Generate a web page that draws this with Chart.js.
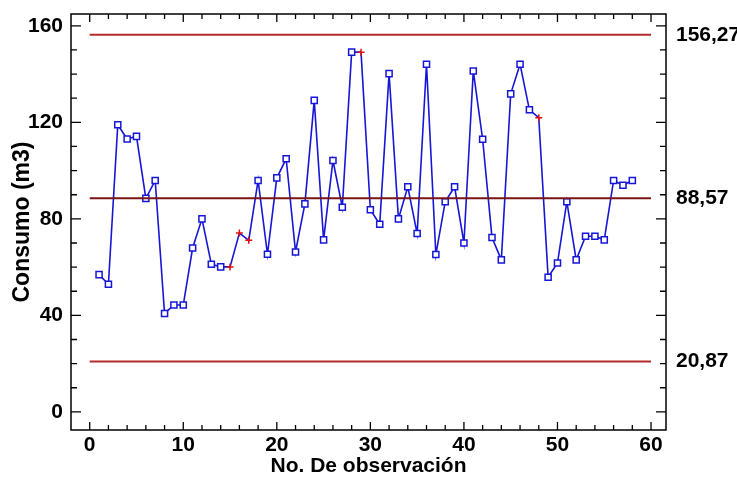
<!DOCTYPE html>
<html>
<head>
<meta charset="utf-8">
<script src="https://cdn.jsdelivr.net/npm/chart.js@4"></script>
<style>
  body { margin: 0; background: #fff; }
  canvas { display: block; }
</style>
</head>
<body>
<canvas id="consumoChart" width="737" height="477"></canvas>
<script>
const observaciones = Array.from({ length: 58 }, (_, i) => i + 1);
const consumo = [
    56.9, 52.9, 119.0, 113.1, 114.2, 88.5, 95.9, 40.8, 44.3, 44.3,
    67.9, 80.0, 61.2, 60.1, 60.1, 74.1, 71.1, 95.9, 65.3, 97.0,
    104.9, 66.3, 86.2, 129.1, 71.3, 104.2, 84.8, 149.1, 149.1, 83.8,
    77.8, 140.2, 80.0, 93.3, 73.9, 144.1, 65.2, 87.1, 93.3, 70.0,
    141.3, 113.0, 72.3, 63.0, 131.8, 144.1, 125.2, 121.9, 55.8, 61.7,
    87.1, 63.0, 72.8, 72.8, 71.3, 95.9, 93.9, 95.9
];
// observations marked with a red cross instead of a square
const marcadas = [15, 16, 17, 29, 48];

const LCS = 156.27;
const LC = 88.57;
const LCI = 20.87;
const limites = [LCI, LC, LCS];

const xTicks = [0, 10, 20, 30, 40, 50, 60];
const yTicks = [0, 40, 80, 120, 160];

const FONT = "'Liberation Sans', Arial, sans-serif";

const serie = observaciones.map((x, i) => ({ x: x, y: consumo[i] }));
const linea = (v) => [{ x: 0, y: v }, { x: 60, y: v }];
const esMarcada = (c) => marcadas.includes(c.raw && c.raw.x);

// frame and inward tick marks on all four sides
const marco = {
    id: 'marco',
    afterDraw(chart) {
        const { ctx, chartArea: a, scales: { x, y } } = chart;
        ctx.save();
        ctx.strokeStyle = '#000';
        ctx.lineWidth = 1.5;
        ctx.strokeRect(a.left, a.top, a.right - a.left, a.bottom - a.top);
        ctx.lineWidth = 1.3;
        ctx.beginPath();
        for (let v = 0; v <= 60; v += 2) {
            const px = x.getPixelForValue(v);
            const len = v % 10 === 0 ? 8 : 5;
            ctx.moveTo(px, a.bottom);
            ctx.lineTo(px, a.bottom - len);
            ctx.moveTo(px, a.top);
            ctx.lineTo(px, a.top + len);
        }
        for (let v = 0; v <= 160; v += 10) {
            const py = y.getPixelForValue(v);
            const len = v % 40 === 0 ? 10 : 6;
            ctx.moveTo(a.left, py);
            ctx.lineTo(a.left + len, py);
            ctx.moveTo(a.right, py);
            ctx.lineTo(a.right - len, py);
        }
        ctx.stroke();
        ctx.restore();
    }
};

const sinRelleno = (s) => {
    s.paddingTop = 0;
    s.paddingBottom = 0;
    s.paddingLeft = 0;
    s.paddingRight = 0;
};

new Chart(document.getElementById('consumoChart'), {
    type: 'line',
    data: {
        datasets: [
            {
                label: 'LCS',
                data: linea(LCS),
                borderColor: '#b52a2a',
                borderWidth: 2,
                pointRadius: 0
            },
            {
                label: 'LC',
                data: linea(LC),
                borderColor: '#7a1414',
                borderWidth: 2,
                pointRadius: 0
            },
            {
                label: 'LCI',
                data: linea(LCI),
                borderColor: '#b52a2a',
                borderWidth: 2,
                pointRadius: 0
            },
            {
                label: 'Consumo',
                data: serie,
                borderColor: '#1616d6',
                borderWidth: 1.6,
                pointStyle: (c) => esMarcada(c) ? 'cross' : 'rect',
                pointRadius: (c) => esMarcada(c) ? 3.5 : 4.3,
                pointBorderColor: (c) => esMarcada(c) ? '#e01010' : '#1616d6',
                pointBackgroundColor: '#fff',
                pointBorderWidth: 1.5
            }
        ]
    },
    options: {
        responsive: false,
        animation: false,
        layout: { padding: { top: 14, left: 0, right: 0, bottom: 0 } },
        plugins: {
            legend: { display: false },
            tooltip: { enabled: false }
        },
        scales: {
            x: {
                type: 'linear',
                min: -2,
                max: 61.6,
                afterBuildTicks: (s) => { s.ticks = xTicks.map(v => ({ value: v })); },
                afterFit: (s) => { s.height = 47; sinRelleno(s); },
                grid: { display: false, drawTicks: false },
                border: { display: false },
                ticks: {
                    color: '#000',
                    padding: 3,
                    font: { family: FONT, size: 21, weight: 'bold' }
                },
                title: {
                    display: true,
                    text: 'No. De observación',
                    color: '#000',
                    padding: { top: 0, bottom: -2 },
                    font: { family: FONT, size: 21, weight: 'bold' }
                }
            },
            y: {
                type: 'linear',
                position: 'left',
                min: -7.5,
                max: 164.9,
                afterBuildTicks: (s) => { s.ticks = yTicks.map(v => ({ value: v })); },
                afterFit: (s) => { s.width = 71; sinRelleno(s); },
                grid: { display: false, drawTicks: false },
                border: { display: false },
                ticks: {
                    color: '#000',
                    padding: 8,
                    font: { family: FONT, size: 21, weight: 'bold' }
                },
                title: {
                    display: true,
                    text: 'Consumo (m3)',
                    color: '#000',
                    padding: { top: 9, bottom: 0 },
                    font: { family: FONT, size: 23, weight: 'bold' }
                }
            },
            yDer: {
                type: 'linear',
                position: 'right',
                min: -7.5,
                max: 164.9,
                afterBuildTicks: (s) => { s.ticks = limites.map(v => ({ value: v })); },
                afterFit: (s) => { s.width = 71; sinRelleno(s); },
                grid: { display: false, drawTicks: false },
                border: { display: false },
                ticks: {
                    color: '#000',
                    padding: 10,
                    callback: (v) => v.toFixed(2).replace('.', ','),
                    font: { family: FONT, size: 21, weight: 'bold' }
                }
            }
        }
    },
    plugins: [marco]
});
</script>
</body>
</html>
